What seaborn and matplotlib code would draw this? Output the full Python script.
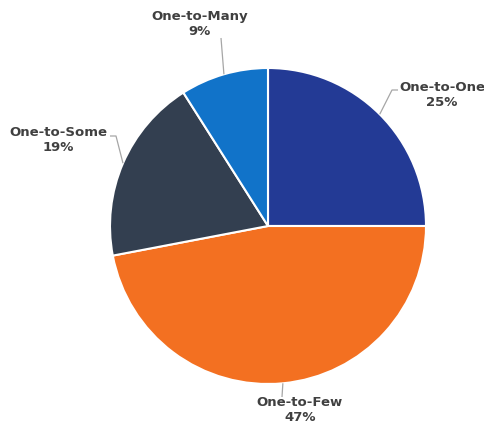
import numpy as np
import matplotlib
matplotlib.use("Agg")
import matplotlib.pyplot as plt
import seaborn as sns

sns.set_theme(style="white")
plt.rcParams['font.family'] = ['DejaVu Sans']

categories = ["One-to-One", "One-to-Few", "One-to-Some", "One-to-Many"]
shares = [25, 47, 19, 9]
colors = ["#233A95", "#F37021", "#333F50", "#1173C9"]

W, H = 485, 432
fig = plt.figure(figsize=(W / 100, H / 100), dpi=100)
ax = fig.add_axes([0, 0, 1, 1])

cx, cy, r = 268, H - 226, 158
wedges, _ = ax.pie(shares, colors=colors, startangle=90, counterclock=False,
                   center=(cx, cy), radius=r,
                   wedgeprops=dict(edgecolor="white", linewidth=1.5))
ax.set_xlim(0, W)
ax.set_ylim(0, H)
ax.set_aspect("equal")
ax.axis("off")

# label block centre (px) and leader-line path after the edge point (px)
label_pos = [(442, 95), (300, 410), (58, 140), (200, 24)]
leader = [[(392, 90), (398, 90)],
          [(282, 397)],
          [(116, 136), (110, 136)],
          [(221, 38)]]

for w, cat, val, (lx, ly), path in zip(wedges, categories, shares, label_pos, leader):
    mid = np.deg2rad((w.theta1 + w.theta2) / 2)
    ex, ey = cx + r * np.cos(mid), cy + r * np.sin(mid)
    xs = [ex] + [p[0] for p in path]
    ys = [ey] + [H - p[1] for p in path]
    ax.plot(xs, ys, color="#A6A6A6", lw=0.9, solid_capstyle="butt")
    ax.text(lx, H - ly, f"{cat}\n{val}%", ha="center", va="center",
            fontsize=9.5, fontweight="bold", color="#404040", linespacing=1.25)

fig.savefig("out.png", dpi=100)
